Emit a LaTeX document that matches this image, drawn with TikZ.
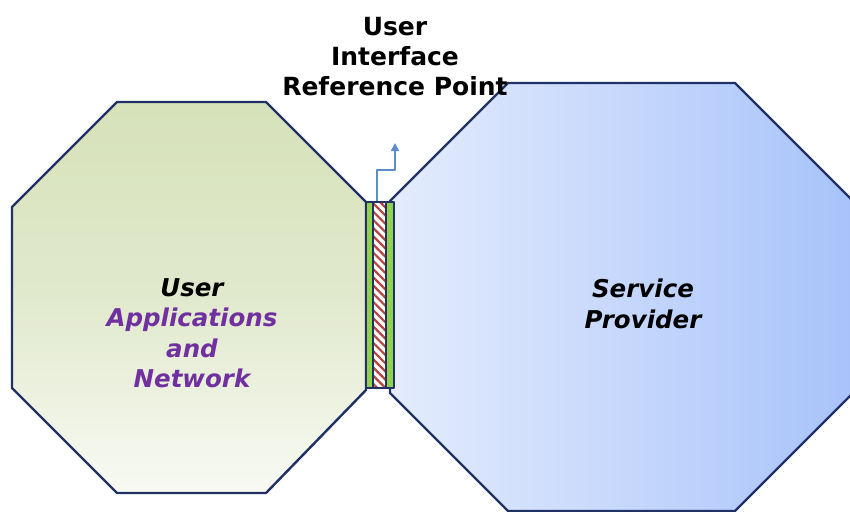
\documentclass[tikz,border=0pt]{standalone}
\usepackage{fontspec}
\setmainfont{DejaVu Sans}
\usepackage{xcolor}
\usepackage{tikz}
\usetikzlibrary{arrows.meta,patterns.meta,calc}
\definecolor{navy}{HTML}{1F3165}
\definecolor{bandgreen}{HTML}{92D050}
\definecolor{apppurple}{HTML}{7030A0}
\definecolor{hatchred}{HTML}{B8433F}
\definecolor{arrowblue}{HTML}{5B8DCB}
\definecolor{greentop}{HTML}{D6E2B9}
\definecolor{greenmid}{HTML}{E1E9CD}
\definecolor{greenbot}{HTML}{F8FAF3}
\definecolor{blueleft}{HTML}{E4ECFD}
\definecolor{blueright}{HTML}{A8C3FA}

\begin{document}
\begin{tikzpicture}[x=1pt, y=-1pt, line join=round,
  octoedge/.style={navy, line width=2.4pt},
  octolabel/.style={font=\fontsize{24.5}{30.5}\selectfont\bfseries\itshape, align=center}]
\useasboundingbox (0,0) rectangle (850,511);
\clip (0,0) rectangle (850,511);
% User side - green octagon
\coordinate (U1) at (117,102);
\coordinate (U2) at (266,102);
\coordinate (U3) at (366,202);
\coordinate (U4) at (366,390);
\coordinate (U5) at (266,493);
\coordinate (U6) at (117,493);
\coordinate (U7) at (12,388);
\coordinate (U8) at (12,207);
% Provider side - blue octagon (runs off the right edge)
\coordinate (P1) at (508,83);
\coordinate (P2) at (735,83);
\coordinate (P3) at (853,201);
\coordinate (P4) at (853,393);
\coordinate (P5) at (735,511);
\coordinate (P6) at (508,511);
\coordinate (P7) at (390,393);
\coordinate (P8) at (390,201);
% Draw both octagons
\draw[octoedge, top color=greentop, bottom color=greenbot, middle color=greenmid]
  (U1) -- (U2) -- (U3) -- (U4) -- (U5) -- (U6) -- (U7) -- (U8) -- cycle;
\draw[octoedge, left color=blueleft, right color=blueright]
  (P1) -- (P2) -- (P3) -- (P4) -- (P5) -- (P6) -- (P7) -- (P8) -- cycle;
% Reference point strip between them
\node[draw=navy, line width=2pt, fill=bandgreen, inner sep=0pt,
  minimum width=28pt, minimum height=186pt] (strip) at (379.5,295) {};
\node[draw=navy, line width=1.5pt, preaction={fill=white},
  pattern={Lines[angle=135, distance=5.8pt, line width=2.2pt]}, pattern color=hatchred,
  inner sep=0pt, minimum width=13pt, minimum height=185pt] (hatch) at (strip.center) {};
% Pointer up to the label
\coordinate (tip) at (395,143);
\draw[arrowblue, line width=1.7pt, -{Triangle[length=8pt, width=8pt]}]
  ([xshift=-2.5pt]strip.north) -- ++(0,-31) -| (tip);
% Labels
\node[font=\fontsize{25}{30}\selectfont\bfseries, align=center] (refpoint) at (395,57)
  {User\\Interface\\Reference Point};
\node[octolabel] (userlabel) at (192,333)
  {User\\\textcolor{apppurple}{Applications}\\\textcolor{apppurple}{and}\\\textcolor{apppurple}{Network}};
\node[octolabel] (providerlabel) at (643,304) {Service\\Provider};
\end{tikzpicture}
\end{document}
